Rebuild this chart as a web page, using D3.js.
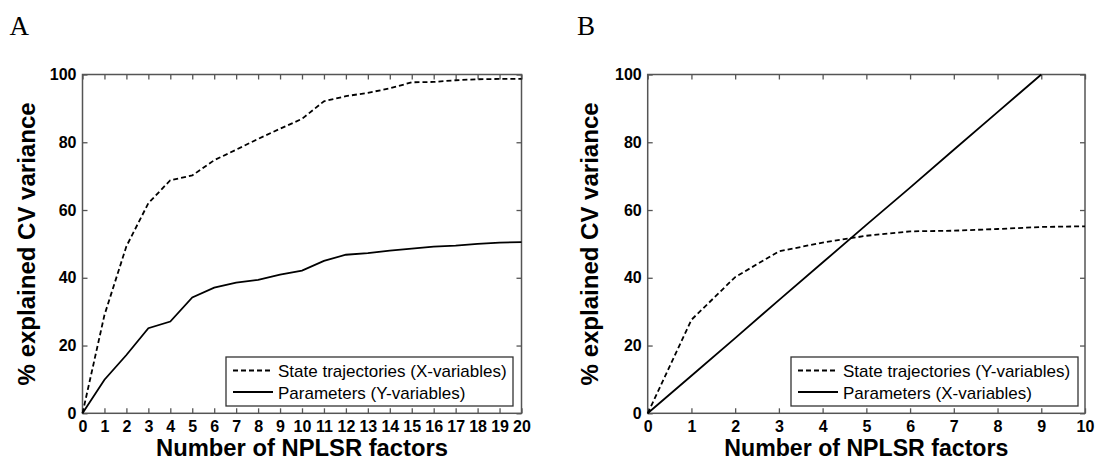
<!DOCTYPE html>
<html>
<head>
<meta charset="utf-8">
<script src="https://cdn.jsdelivr.net/npm/d3@7"></script>
<style>
  body { margin: 0; background: #fff; }
  svg { display: block; }
  .tick text { font-family: "Liberation Sans", Arial, sans-serif; font-weight: bold; font-size: 16px; fill: #000; }
  .axislabel { font-family: "Liberation Sans", Arial, sans-serif; font-weight: bold; font-size: 23px; fill: #000; }
  .legendtext { font-family: "Liberation Sans", Arial, sans-serif; font-size: 17px; fill: #000; }
  .panelletter { font-family: "Liberation Serif", "Times New Roman", serif; font-size: 27px; fill: #000; }
</style>
</head>
<body>
<div id="chart"></div>
<script>
// panel A: 0..20 factors
var factorsA = [0,1,2,3,4,5,6,7,8,9,10,11,12,13,14,15,16,17,18,19,20];
var stateA = [0,29,49.3,62,68.8,70.2,74.7,77.8,81,84,86.9,92.1,93.6,94.6,95.9,97.7,97.8,98.3,98.6,98.7,98.7];
var paramsA = [0,9.9,17.2,25.1,27.1,34.2,37.1,38.6,39.4,40.9,42.1,45,46.8,47.3,48,48.6,49.2,49.5,50,50.4,50.5];

// panel B: 0..10 factors
var factorsB = [0,1,2,3,4,5,6,7,8,9,10];
var stateB = [0,27.6,40.2,47.8,50.4,52.4,53.7,53.9,54.4,55,55.2];
var factorsParamsB = [0,1,2,3,4,5,6,7,8,9];
var paramsB = [0,11.1,22.2,33.4,44.5,55.6,66.6,77.8,88.9,100];

var yTicks = [0,20,40,60,80,100];
var xTicksA = d3.range(0,21);
var xTicksB = d3.range(0,11);

var svg = d3.select("#chart").append("svg")
    .attr("width",1095)
    .attr("height",461);

function drawPanel(opt){
    var x = d3.scaleLinear().domain(opt.xDomain).range([opt.left, opt.right]);
    var y = d3.scaleLinear().domain([0,100]).range([opt.bottom, opt.top]);
    var g = svg.append("g");

    // panel letter
    g.append("text").attr("class","panelletter")
        .attr("x", opt.letterX).attr("y", 35)
        .text(opt.letter);

    // inward ticks on all four sides
    var bottomAxis = d3.axisBottom(x).tickValues(opt.xTicks).tickSizeInner(-5).tickSizeOuter(0).tickPadding(7);
    g.append("g").attr("transform","translate(0," + opt.bottom + ")").call(bottomAxis);
    g.append("g").attr("transform","translate(0," + opt.top + ")")
        .call(d3.axisTop(x).tickValues(opt.xTicks).tickSizeInner(-5).tickSizeOuter(0).tickFormat(""));
    g.append("g").attr("transform","translate(" + opt.left + ",0)")
        .call(d3.axisLeft(y).tickValues(yTicks).tickSizeInner(-5).tickSizeOuter(0).tickPadding(6));
    g.append("g").attr("transform","translate(" + opt.right + ",0)")
        .call(d3.axisRight(y).tickValues(yTicks).tickSizeInner(-5).tickSizeOuter(0).tickFormat(""));
    g.selectAll(".domain").remove();
    g.selectAll(".tick line").attr("stroke","#555").attr("stroke-width",1.3);

    // box
    g.append("rect")
        .attr("x", opt.left).attr("y", opt.top)
        .attr("width", opt.right - opt.left).attr("height", opt.bottom - opt.top)
        .attr("fill","none").attr("stroke","#555").attr("stroke-width",1.5);

    var line = d3.line().x(function(d){ return x(d[0]); }).y(function(d){ return y(d[1]); });

    opt.series.forEach(function(s){
        g.append("path")
            .datum(d3.zip(s.xs, s.ys))
            .attr("d", line)
            .attr("fill","none")
            .attr("stroke","#000")
            .attr("stroke-width",1.8)
            .attr("stroke-dasharray", s.dashed ? "5,3" : null);
    });

    // axis labels
    g.append("text").attr("class","axislabel")
        .attr("x", (opt.left + opt.right)/2).attr("y", 456)
        .attr("text-anchor","middle")
        .attr("textLength", opt.xLabelLen).attr("lengthAdjust","spacingAndGlyphs")
        .text("Number of NPLSR factors");
    g.append("text").attr("class","axislabel")
        .attr("transform","translate(" + opt.yLabelX + "," + (opt.top + opt.bottom)/2 + ") rotate(-90)")
        .attr("text-anchor","middle")
        .attr("textLength", 283).attr("lengthAdjust","spacingAndGlyphs")
        .text("% explained CV variance");

    // legend
    var lg = g.append("g").attr("transform","translate(" + opt.legendX + ",357)");
    lg.append("rect").attr("width",287).attr("height",49)
        .attr("fill","#fff").attr("stroke","#333").attr("stroke-width",1.3);
    opt.series.forEach(function(s, i){
        var ly = 13.5 + i*21.5;
        lg.append("line").attr("x1",7).attr("x2",47).attr("y1",ly).attr("y2",ly)
            .attr("stroke","#000").attr("stroke-width",1.8)
            .attr("stroke-dasharray", s.dashed ? "5,3" : null);
        lg.append("text").attr("class","legendtext")
            .attr("x",52).attr("y", ly + 6.5)
            .text(s.name);
    });
}

drawPanel({
    letter:"A", letterX:9.5,
    left:82.5, right:521.5, top:74.5, bottom:413.3,
    xDomain:[0,20], xTicks:xTicksA, xLabelLen:292, yLabelX:35, legendX:226,
    series:[
        {name:"State trajectories (X-variables)", xs:factorsA, ys:stateA, dashed:true},
        {name:"Parameters (Y-variables)", xs:factorsA, ys:paramsA, dashed:false}
    ]
});

drawPanel({
    letter:"B", letterX:577,
    left:647.7, right:1085, top:74.5, bottom:413.3,
    xDomain:[0,10], xTicks:xTicksB, xLabelLen:284, yLabelX:598, legendX:791,
    series:[
        {name:"State trajectories (Y-variables)", xs:factorsB, ys:stateB, dashed:true},
        {name:"Parameters (X-variables)", xs:factorsParamsB, ys:paramsB, dashed:false}
    ]
});
</script>
</body>
</html>
